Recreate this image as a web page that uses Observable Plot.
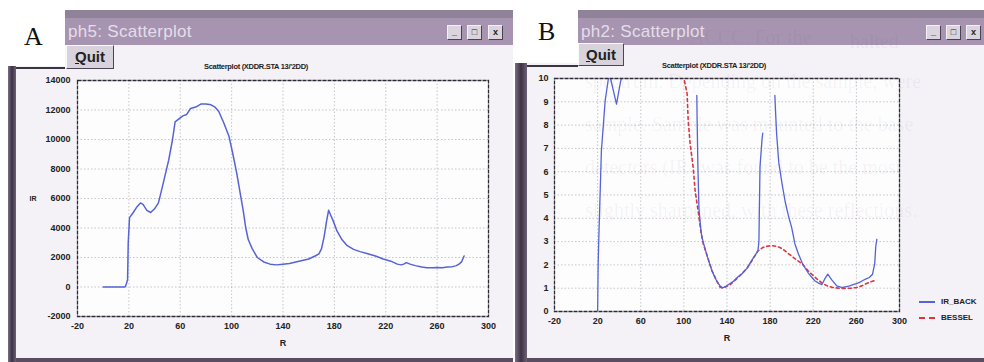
<!DOCTYPE html>
<html><head><meta charset="utf-8">
<script src="https://cdn.jsdelivr.net/npm/d3@7"></script>
<script src="https://cdn.jsdelivr.net/npm/@observablehq/plot@0.6"></script>
<style>
body{margin:0;width:984px;height:362px;overflow:hidden;background:#fff;position:relative;font-family:Arial,"Liberation Sans",sans-serif}
.a{position:absolute}
.win{background:#f4f2f7;border-bottom:4px solid #5a4d63;box-sizing:border-box}
.tb{background:linear-gradient(#8f8299 0,#8f8299 8px,#a694b0 8px,#a694b0 100%);height:35px;top:10px}
.tt{color:#e6ddeb;font-size:17px;top:22px;letter-spacing:0.3px}
.bx{width:13px;height:13px;top:25px;background:#d9d4dd;border:1px solid;border-color:#f4f0f6 #4a4250 #4a4250 #f4f0f6;font:bold 9px Arial;color:#222;text-align:center;line-height:12px;overflow:hidden}
.lbl{font-family:"Liberation Serif","Times New Roman",serif;font-size:26px;color:#111}
.quit{background:#d7d2db;border:1px solid;border-color:#fbf9fc #4d4552 #4d4552 #fbf9fc;box-sizing:border-box;font:bold 15px Arial;color:#222;text-align:center;line-height:21px}
.ct{font:bold 7.5px Arial;color:#222;letter-spacing:-0.3px;white-space:nowrap}
.bar{background:linear-gradient(90deg,#7a6d83,#3d3244 50%,#6e6177)}
.ghost{font-family:"Liberation Serif",serif;font-size:20px;color:rgba(95,80,125,0.065);white-space:nowrap;pointer-events:none}
.leg{font:bold 8px Arial;color:#222;white-space:nowrap}
</style></head>
<body>
<script>
// ---------- data ----------
const xTicks = [-20, 20, 60, 100, 140, 180, 220, 260, 300];
const yTicksA = [-2000, 0, 2000, 4000, 6000, 8000, 10000, 12000, 14000];
const yTicksB = [0, 1, 2, 3, 4, 5, 6, 7, 8, 9, 10];

// Panel A: IR vs R
const aR  = [0,17,18,19,19.5,20.5,23,26,29,31,34,37,40,43,45,48,51,54,56,59,62,65,68,72,76,80,84,87,90,94,98,101,104,107,109,111,113,116,120,125,130,135,140,145,150,155,160,165,168,170,172,174,175.5,177,179,182,186,190,195,200,206,212,218,224,229,232,234,236,239,243,248,252,256,260,264,268,272,275,277,279,281];
const aIR = [0,0,200,500,3000,4700,5000,5400,5700,5600,5200,5050,5300,5700,6400,7500,8600,10000,11200,11400,11600,11700,12100,12200,12400,12400,12350,12200,11900,11100,10200,9000,7700,6200,5200,4000,3200,2600,2000,1700,1550,1500,1550,1600,1700,1800,1900,2100,2250,2600,3400,4500,5200,4900,4500,3800,3200,2800,2550,2400,2250,2100,1900,1750,1550,1500,1550,1650,1550,1450,1350,1300,1300,1320,1300,1350,1380,1450,1550,1700,2100];

// Panel B: IR_BACK (null = gap) and BESSEL vs R
const bR    = [20,20.5,21,23.5,27,30,31,32,37.5,41,43,46, 80, 112,112.3,113,114,116,117.8,121.5,126,130,133.5,136,139,142.8,146,150,154,158.5,164,168.7,169.6,170.6,172.5,173.2, 178, 184.4,185,186,188,191,194,197,200,203,206,209.6,212,215,218,221.4,225,228,230.7,233.5,237,241.8,247,250,253.8,257,260,263,266,269,272,275,277,278,279];
const bIR   = [0,2,3,6.9,9.05,10,10.2,10,8.9,9.8,10.2,11, null, 9.27,8.2,6.2,4.4,3.4,3.0,2.4,1.75,1.35,1.1,1.02,1.08,1.2,1.3,1.48,1.62,1.85,2.27,2.6,3.0,6.2,7.4,7.65, null, 9.27,8.6,7.64,6.4,5.5,4.7,4.1,3.6,2.9,2.5,2.1,1.9,1.68,1.5,1.32,1.22,1.15,1.4,1.6,1.37,1.1,1.03,1.06,1.1,1.15,1.2,1.25,1.33,1.4,1.46,1.6,2.05,2.8,3.1];
const besselR = [100.5,103,104,105.8,108.6,110.4,113.2,116,118,121.5,126,130,133.5,136,142.8,150,158.5,164,168.7,173.3,177,181.7,185,189,192.5,196.5,203,209.6,215,219,223.3,228.8,233,238,244,249,255,260,265,269.5,273,277];
const besselY = [9.9,9.35,8.2,7.2,6.2,5.2,4.33,3.35,2.9,2.4,1.76,1.35,1.05,1.0,1.15,1.45,1.85,2.25,2.6,2.75,2.8,2.83,2.8,2.75,2.65,2.5,2.27,2.05,1.76,1.58,1.4,1.2,1.1,1.03,1.0,0.99,1.0,1.03,1.1,1.2,1.27,1.33];

const dataA = aR.map((r, i) => ({R: r, IR: aIR[i]}));
const dataB = bR.map((r, i) => ({R: r, v: bIR[i]}));
const dataBes = besselR.map((r, i) => ({R: r, v: besselY[i]}));

const gridStyle = {stroke: "#9a98a6", strokeOpacity: 0.55, strokeDasharray: "1.5,2"};
const blue = "#5563d6", red = "#e0343c";
const fmt = d => String(d);

function chart(opts) {
  return Plot.plot({
    width: opts.width, height: opts.height,
    marginLeft: opts.ml, marginRight: opts.mr, marginTop: opts.mt, marginBottom: opts.mb,
    x: {domain: [-20, 300]},
    y: {domain: opts.ydom},
    style: {background: "transparent", fontFamily: "Arial, 'Liberation Sans', sans-serif", fontSize: "9px", fontWeight: "bold", color: "#222", overflow: "visible"},
    marks: [
      Plot.frame({fill: "#fdfdfe"}),
      Plot.gridX(xTicks, gridStyle),
      Plot.gridY(opts.yticks, gridStyle),
      ...opts.lines,
      Plot.frame({stroke: "#2e2a33", strokeWidth: 1.3, strokeDasharray: "4,1"}),
      Plot.axisX(xTicks, {tickSize: 0, tickPadding: 6, label: null, tickFormat: fmt}),
      Plot.axisY(opts.yticks, {tickSize: 0, tickPadding: opts.yPad, label: null, tickFormat: fmt}),
      Plot.text(["R"], {frameAnchor: "bottom", dy: 29, text: d => d}),
      ...(opts.extra || [])
    ]
  });
}

function el(cls, style, html) {
  const d = document.createElement("div");
  d.className = "a " + cls;
  Object.assign(d.style, style);
  if (html != null) d.innerHTML = html;
  document.body.appendChild(d);
  return d;
}

// faint bleed-through text of the scanned page
function ghosts() {
  el("ghost", {left: "690px", top: "26px"}, "ACCC. For the");
  el("ghost", {left: "850px", top: "30px"}, "halted");
  el("ghost", {left: "585px", top: "70px"}, "spectrum. Depending on the sample, were");
  el("ghost", {left: "585px", top: "113px"}, "sample. Sample was mounted to the base");
  el("ghost", {left: "585px", top: "156px"}, "detectors (IR) was found to be the most");
  el("ghost", {left: "585px", top: "199px"}, "slightly sharpened, with these reflections.");
}

// Window A
el("win", {left: "8px", top: "10px", width: "505px", height: "352px"});
el("tb", {left: "65px", width: "448px"});
el("tt", {left: "68px"}, "ph5: Scatterplot");
el("bx", {left: "447px"}, "_");
el("bx", {left: "467px"}, "□");
el("bx", {left: "488px"}, "x");
el("", {left: "0px", top: "0px", width: "65px", height: "66px", background: "#fff"});
el("lbl", {left: "24px", top: "22px"}, "A");
el("bar", {left: "8px", top: "66px", width: "8px", height: "296px"});
el("", {left: "16px", top: "67px", width: "49px", height: "2px", background: "#3a3440"});
el("quit", {left: "66px", top: "45px", width: "48px", height: "24px"}, "<u>Q</u>uit");
el("ct", {left: "204px", top: "62px"}, "Scatterplot (XDDR.STA 13/'2DD)");

// Window B
el("win", {left: "515px", top: "10px", width: "469px", height: "352px"});
el("tb", {left: "578px", width: "406px"});
el("tt", {left: "581px"}, "ph2: Scatterplot");
el("bx", {left: "926px"}, "_");
el("bx", {left: "946px"}, "□");
el("bx", {left: "966px"}, "x");
el("", {left: "513px", top: "0px", width: "65px", height: "63px", background: "#fff"});
el("lbl", {left: "538px", top: "17px"}, "B");
el("bar", {left: "515px", top: "63px", width: "12px", height: "299px"});
el("", {left: "527px", top: "65px", width: "51px", height: "2px", background: "#3a3440"});
el("quit", {left: "578px", top: "43px", width: "46px", height: "23px"}, "<u>Q</u>uit");
el("ct", {left: "662px", top: "61px"}, "Scatterplot (XDDR.STA 13/'2DD)");

// Chart A
const svgA = chart({
  width: 480, height: 300, ml: 57, mr: 12, mt: 20, mb: 44,
  ydom: [-2000, 14000], yticks: yTicksA, yPad: 7,
  lines: [Plot.line(dataA, {x: "R", y: "IR", stroke: blue, strokeWidth: 1.5})],
  extra: [Plot.text(["IR"], {frameAnchor: "left", dx: -48, text: d => d, fontSize: 7})]
});
el("", {left: "20px", top: "60px"}).appendChild(svgA);

// Chart B
const svgB = chart({
  width: 469, height: 300, ml: 39, mr: 85, mt: 18, mb: 49,
  ydom: [0, 10], yticks: yTicksB, yPad: 6,
  lines: [
    Plot.line(dataBes, {x: "R", y: "v", stroke: red, strokeWidth: 1.6, strokeDasharray: "3,3", clip: true}),
    Plot.line(dataB, {x: "R", y: "v", stroke: blue, strokeWidth: 1.3, clip: true})
  ]
});
el("", {left: "515px", top: "60px"}).appendChild(svgB);

// Legend
el("", {left: "919px", top: "301px", width: "16px", height: "2px", background: blue});
el("leg", {left: "941px", top: "297px"}, "IR_BACK");
el("", {left: "919px", top: "317px", width: "16px", height: "0px", borderTop: "2px dashed " + red});
el("leg", {left: "941px", top: "313px"}, "BESSEL");

ghosts();
</script>
</body></html>
